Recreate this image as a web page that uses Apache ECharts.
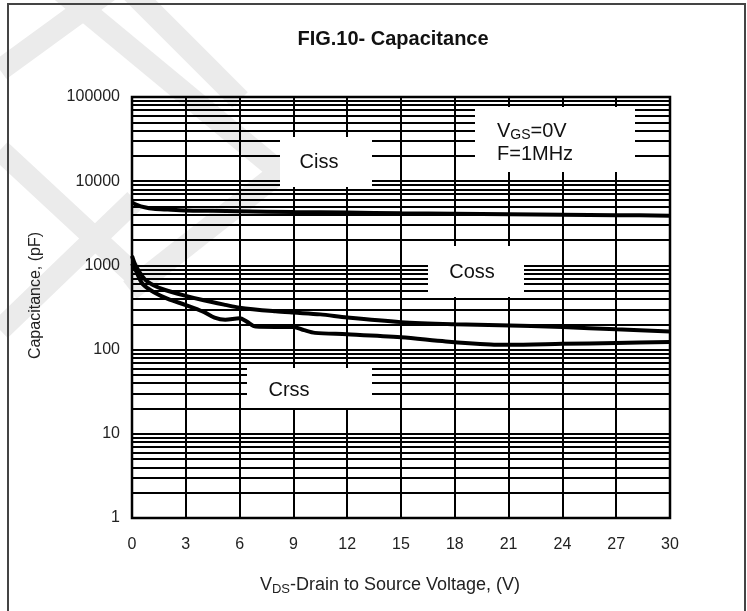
<!DOCTYPE html>
<html>
<head>
<meta charset="utf-8">
<script src="https://cdn.jsdelivr.net/npm/echarts@6/dist/echarts.min.js"></script>
<style>
  html, body { margin: 0; padding: 0; background: #ffffff; }
  #chart { width: 747px; height: 611px; }
</style>
</head>
<body>
<div id="chart"></div>
<script>
// Drain-source voltage ticks (V) and capacitance decades (pF)
const xTicks = [0, 3, 6, 9, 12, 15, 18, 21, 24, 27, 30];
const yDecades = [1, 10, 100, 1000, 10000, 100000];

// Input capacitance Ciss
const cissV = [0, 0.3, 0.7, 1.2, 2, 3, 4.5, 6, 9, 12, 15, 18, 21, 24, 27, 30];
const cissC = [5600, 5200, 4900, 4700, 4600, 4500, 4450, 4400, 4300, 4250, 4150, 4100, 4050, 4000, 3950, 3900];

// Output capacitance Coss
const cossV = [0, 0.2, 0.7, 1.2, 1.85, 3, 4, 5.2, 6, 8, 9, 10.5, 12, 15, 18, 20.5, 24, 27, 30];
const cossC = [1300, 1000, 690, 580, 510, 435, 385, 340, 315, 285, 275, 262, 240, 212, 200, 195, 185, 174, 164];

// Reverse transfer capacitance Crss
const crssV = [0, 0.2, 0.6, 1.3, 2, 3, 4, 4.6, 5.2, 6, 6.4, 6.9, 8, 9, 9.6, 10.2, 12, 15, 17.5, 20, 21, 24, 27, 30];
const crssC = [1050, 880, 600, 470, 400, 338, 280, 240, 226, 235, 215, 188, 186, 186, 170, 158, 152, 140, 125, 115, 114, 117, 120, 123];

const FONT = "'Liberation Sans', Arial, Helvetica, sans-serif";

// Minor horizontal grid values: 2..9 inside every decade
const minorGrid = [];
yDecades.slice(0, -1).forEach(d => {
  for (let k = 2; k <= 9; k++) minorGrid.push(d * k);
});

const pairs = (xs, ys) => xs.map((x, i) => [x, ys[i]]);

const curveStyle = { color: '#000', width: 4 };

const chart = echarts.init(document.getElementById('chart'), null, { renderer: 'canvas' });

// White label plates and their captions
const plate = (x, y, w, h) => ({
  type: 'rect', z: 50, silent: true,
  shape: { x: x, y: y, width: w, height: h },
  style: { fill: '#ffffff' }
});
const caption = (x, y, text) => ({
  type: 'text', z: 51, silent: true, x: x, y: y,
  style: { text: text, font: '20px ' + FONT, fill: '#111', textAlign: 'center', textVerticalAlign: 'middle' }
});

// Faint diagonal watermark bands
const band = (pts) => ({
  type: 'polyline', z: -1, silent: true,
  shape: { points: pts },
  style: { stroke: '#ebebeb', lineWidth: 22, fill: null, lineJoin: 'miter' }
});

chart.setOption({
  animation: false,
  backgroundColor: '#ffffff',
  title: {
    text: 'FIG.10- Capacitance',
    left: 388, top: 24, textAlign: 'center',
    textStyle: { fontFamily: FONT, fontWeight: 'bold', fontSize: 20, color: '#111' }
  },
  grid: {
    left: 132, right: 77, top: 97, bottom: 93,
    show: true, borderColor: '#000', borderWidth: 2.5, backgroundColor: 'transparent', z: 3
  },
  xAxis: {
    type: 'value', min: 0, max: 30, interval: 3,
    axisLine: { show: false },
    axisTick: { show: false },
    axisLabel: { fontFamily: FONT, fontSize: 16, color: '#222', margin: 19 },
    splitLine: { show: true, lineStyle: { color: '#000', width: 2 } },
    name: '{n|V}{s|DS}{n|-Drain to Source Voltage, (V)}',
    nameLocation: 'middle', nameGap: 56,
    nameTextStyle: {
      padding: [0, 22, 0, 0],
      rich: {
        n: { fontFamily: FONT, fontSize: 18, color: '#222' },
        s: { fontFamily: FONT, fontSize: 13, color: '#222', padding: [9, 0, 0, 0] }
      }
    }
  },
  yAxis: {
    type: 'log', logBase: 10, min: 1, max: 100000,
    axisLine: { show: false },
    axisTick: { show: false },
    axisLabel: { fontFamily: FONT, fontSize: 16, color: '#222', margin: 12,
      formatter: v => String(Math.round(v)) },
    splitLine: { show: true, lineStyle: { color: '#000', width: 2 } },
    name: 'Capacitance, (pF)',
    nameLocation: 'middle', nameGap: 88,
    nameTextStyle: { fontFamily: FONT, fontSize: 16, color: '#222', padding: [0, 0, 0, 24] }
  },
  graphic: [
    // outer frame
    { type: 'rect', z: 60, silent: true, shape: { x: 8, y: 4, width: 737, height: 640 },
      style: { fill: null, stroke: '#444', lineWidth: 2 } },
    band([[0, 70], [110, -10]]),
    band([[60, -10], [280, 172], [130, 290]]),
    band([[130, -10], [240, 100]]),
    band([[0, 150], [140, 280]]),
    band([[0, 330], [135, 200]]),
    plate(280, 137, 92, 50),
    plate(475, 107, 160, 65),
    plate(428, 246, 96, 51),
    plate(247, 368, 125, 40),
    caption(319, 162, 'Ciss'),
    caption(472, 272, 'Coss'),
    caption(289, 390, 'Crss'),
    {
      type: 'text', z: 51, silent: true, x: 497, y: 120,
      style: {
        text: '{n|V}{s|GS}{n|=0V}\n{n|F=1MHz}',
        rich: {
          n: { font: '20px ' + FONT, fill: '#111', lineHeight: 23 },
          s: { font: '14px ' + FONT, fill: '#111', lineHeight: 23, padding: [7, 0, 0, 0] }
        }
      }
    }
  ],
  series: [
    {
      // horizontal minor grid lines of the log scale
      name: 'grid', type: 'line', z: 1, data: [], silent: true,
      markLine: {
        silent: true, symbol: ['none', 'none'], label: { show: false },
        lineStyle: { color: '#000', width: 2, type: 'solid' },
        data: minorGrid.map(v => ({ yAxis: v }))
      }
    },
    { name: 'Ciss', type: 'line', z: 10, smooth: 0.3, showSymbol: false, lineStyle: curveStyle, data: pairs(cissV, cissC) },
    { name: 'Coss', type: 'line', z: 10, smooth: 0.3, showSymbol: false, lineStyle: curveStyle, data: pairs(cossV, cossC) },
    { name: 'Crss', type: 'line', z: 10, smooth: 0.3, showSymbol: false, lineStyle: curveStyle, data: pairs(crssV, crssC) }
  ]
});
</script>
</body>
</html>
